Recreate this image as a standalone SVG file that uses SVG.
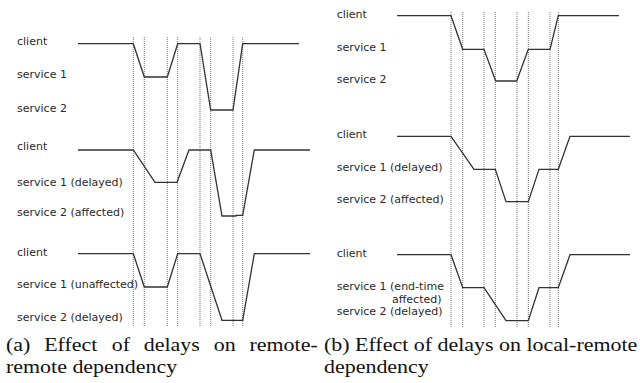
<svg xmlns="http://www.w3.org/2000/svg" width="640" height="383" viewBox="0 0 640 383">
<style>
.lbl{font-family:"DejaVu Sans",Verdana,sans-serif;font-size:11px;fill:#2a2a2a}
.sig{fill:none;stroke:#333;stroke-width:1.3;stroke-linejoin:miter}
.grid{stroke:#555;stroke-width:0.8;stroke-dasharray:1 1}
.cap{font-family:"Liberation Serif","Times New Roman",serif;font-size:19px;fill:#111}
</style>
<rect width="640" height="383" fill="#fff"/>
<g id="grid-a" class="grid">
<line x1="133.3" y1="37" x2="133.3" y2="327"/>
<line x1="144.3" y1="37" x2="144.3" y2="327"/>
<line x1="167.3" y1="37" x2="167.3" y2="327"/>
<line x1="177.7" y1="37" x2="177.7" y2="327"/>
<line x1="200" y1="37" x2="200" y2="327"/>
<line x1="210.7" y1="37" x2="210.7" y2="327"/>
<line x1="233" y1="37" x2="233" y2="327"/>
<line x1="242.7" y1="37" x2="242.7" y2="327"/>
</g>
<g id="grid-b" class="grid">
<line x1="451" y1="12" x2="451" y2="327"/>
<line x1="462.7" y1="12" x2="462.7" y2="327"/>
<line x1="484" y1="12" x2="484" y2="327"/>
<line x1="495.3" y1="12" x2="495.3" y2="327"/>
<line x1="517" y1="12" x2="517" y2="327"/>
<line x1="528.3" y1="12" x2="528.3" y2="327"/>
<line x1="550" y1="12" x2="550" y2="327"/>
<line x1="558.3" y1="12" x2="558.3" y2="327"/>
</g>
<g id="a1">
<text class="lbl" x="17" y="45">client</text>
<text class="lbl" x="17" y="78">service 1</text>
<text class="lbl" x="17" y="112">service 2</text>
<polyline class="sig" points="78,43.7 133.3,43.7 144.3,77 167.3,77 177.7,43.7 200,43.7 210.7,110 233,110 242.7,43.7 299,43.7"/>
</g>
<g id="a2">
<text class="lbl" x="17" y="149.5">client</text>
<text class="lbl" x="17" y="185.5">service 1 (delayed)</text>
<text class="lbl" x="17" y="215.5">service 2 (affected)</text>
<polyline class="sig" points="78,150 133.3,150 155,182.3 177,182.3 189,150 210.7,150 222,216 236,216 236,215.3 242.7,215.3 254.3,150 310,150"/>
</g>
<g id="a3">
<text class="lbl" x="17" y="256">client</text>
<text class="lbl" x="17" y="288">service 1 (unaffected)</text>
<text class="lbl" x="17" y="321">service 2 (delayed)</text>
<polyline class="sig" points="78,253.7 133.3,253.7 144.3,287 167.3,287 177.7,253.7 200,253.7 222,320.3 242.7,320.3 254.3,253.7 310,253.7"/>
</g>
<g id="b1">
<text class="lbl" x="336.7" y="17.7">client</text>
<text class="lbl" x="336.7" y="50.7">service 1</text>
<text class="lbl" x="336.7" y="83.3">service 2</text>
<polyline class="sig" points="397,15.7 451,15.7 462.7,49.3 484,49.3 495.7,81 516.7,81 528.3,49.3 550,49.3 558.3,15.7 619,15.7"/>
</g>
<g id="b2">
<text class="lbl" x="336.7" y="138">client</text>
<text class="lbl" x="336.7" y="170.7">service 1 (delayed)</text>
<text class="lbl" x="336.7" y="203">service 2 (affected)</text>
<polyline class="sig" points="397,136.3 451,136.3 474,169.3 495.3,169.3 506,201.7 528.3,201.7 539,169.3 558.3,169.3 570,136.3 630,136.3"/>
</g>
<g id="b3">
<text class="lbl" x="336.7" y="256.7">client</text>
<text class="lbl" x="336.7" y="290">service 1 (end-time</text>
<text class="lbl" x="441.5" y="302.5" text-anchor="end">affected)</text>
<text class="lbl" x="336.7" y="314.5">service 2 (delayed)</text>
<polyline class="sig" points="397,254.7 451,254.7 462.7,287.7 484,287.7 506,320.7 528.3,320.7 539,287.7 558.3,287.7 570,254.7 630,254.7"/>
</g>
<g id="captions" transform="scale(1.1557,1)">
<text class="cap" y="351"><tspan x="5.19">(a)</tspan><tspan x="38.25">Effect</tspan><tspan x="96.65">of</tspan><tspan x="124.43">delays</tspan><tspan x="184.91">on</tspan><tspan x="215.89">remote-</tspan></text>
<text class="cap" x="5.19" y="373">remote dependency</text>
<text class="cap" x="280.35" y="351">(b) Effect of delays on local-remote</text>
<text class="cap" x="280.35" y="373">dependency</text>
</g>
</svg>
